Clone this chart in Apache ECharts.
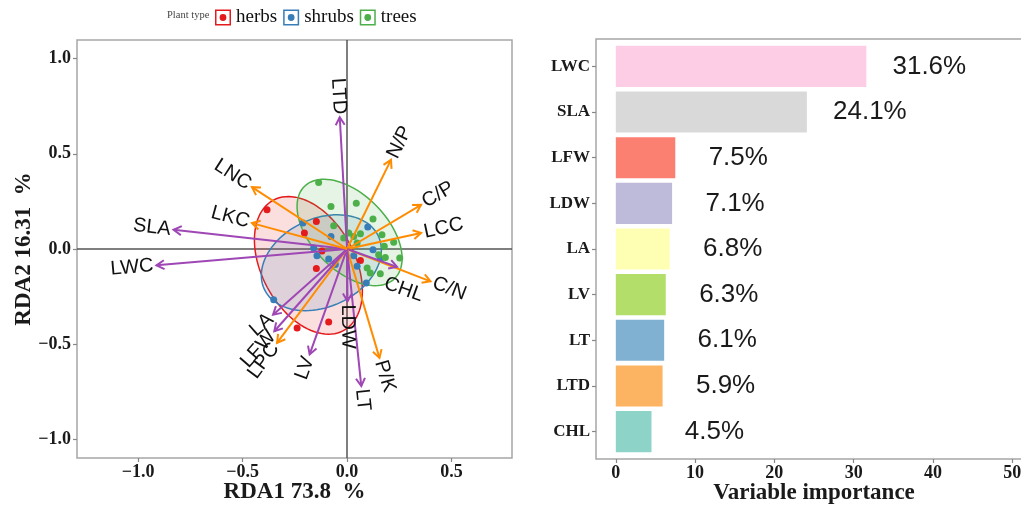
<!DOCTYPE html>
<html>
<head>
<meta charset="utf-8">
<script src="https://cdn.jsdelivr.net/npm/echarts@6.0.0/dist/echarts.min.js"></script>
<style>
  html, body { margin: 0; padding: 0; background: #fff; }
  #chart { width: 1021px; height: 506px; }
</style>
</head>
<body>
<div id="chart"></div>
<script>
  // ---- RDA site scores, one pair of arrays per plant type ----
  const herbsX = [-0.383, -0.147, -0.204, -0.120, -0.147, 0.064, -0.088, -0.239]
  const herbsY = [0.206, 0.145, 0.084, -0.010, -0.103, -0.061, -0.383, -0.415]

  const shrubsX = [-0.211, -0.077, 0.099, 0.124, 0.159, -0.144, -0.088, -0.056, 0.032, 0.048, -0.160, 0.092, -0.351]
  const shrubsY = [0.136, 0.066, 0.115, -0.004, -0.052, -0.035, -0.052, -0.082, -0.035, -0.091, 0.005, -0.178, -0.266]

  const treesX = [-0.136, -0.077, 0.044, 0.124, -0.064, 0.167, 0.223, 0.178, 0.183, 0.252, 0.111, 0.159, 0.064, 0.032, 0.008, -0.016, 0.048, 0.151, 0.096]
  const treesY = [0.349, 0.223, 0.241, 0.157, 0.122, 0.075, 0.035, 0.014, -0.044, -0.047, -0.126, -0.130, 0.080, 0.066, 0.084, 0.058, 0.031, -0.030, -0.100]

  // ---- trait arrows (biplot scores) ----
  const traitNames = ['LTD', 'N/P', 'C/P', 'LCC', 'C/N', 'CHL', 'P/K', 'LT', 'LDW', 'LV', 'LPC', 'LFW', 'LA', 'LWC', 'SLA', 'LKC', 'LNC']
  const traitX = [-0.035, 0.210, 0.354, 0.354, 0.399, 0.239, 0.155, 0.068, 0.002, -0.179, -0.335, -0.348, -0.354, -0.912, -0.830, -0.455, -0.455]
  const traitY = [0.692, 0.468, 0.232, 0.084, -0.170, -0.094, -0.572, -0.720, -0.275, -0.554, -0.493, -0.432, -0.345, -0.086, 0.101, 0.136, 0.325]
  // 1 = leaf structural trait (purple), 0 = stoichiometry trait (orange)
  const traitGroup = [1, 0, 0, 0, 0, 1, 0, 1, 1, 1, 0, 1, 1, 1, 1, 0, 0]

  // ---- confidence ellipses: centre and two half-axis vectors (data units) ----
  const groupNames = ['herbs', 'shrubs', 'trees']
  const ellipseCenter = [[-0.185, -0.086], [-0.123, -0.072], [0.012, 0.087]]
  const ellipseU = [[-0.167, 0.343], [0.273, 0.139], [-0.215, 0.243]]
  const ellipseV = [[-0.197, -0.115], [-0.089, 0.210], [-0.130, -0.138]]

  // ---- variable importance ----
  const impNames = ['LWC', 'SLA', 'LFW', 'LDW', 'LA', 'LV', 'LT', 'LTD', 'CHL']
  const impValues = [31.6, 24.1, 7.5, 7.1, 6.8, 6.3, 6.1, 5.9, 4.5]

  // ---- tick labels ----
  const rdaXTicks = [-1, -0.5, 0, 0.5]
  const rdaYTicks = [-1, -0.5, 0, 0.5, 1]
  const impTicks = [0, 10, 20, 30, 40, 50]

  const groupColors = ['#E41A1C', '#377EB8', '#4DAF4A']
  const groupFill = ['rgba(228,26,28,0.14)', 'rgba(55,126,184,0.14)', 'rgba(77,175,74,0.14)']
  const arrowColors = ['#FF8C00', '#9E47B5']
  const barColors = ['#FCCDE5', '#D9D9D9', '#FB8072', '#BEBADA', '#FFFFB3', '#B3DE69', '#80B1D3', '#FDB462', '#8DD3C7']

  // text repel: CHL label pushed off the C/N label (px)
  const labelNudge = { CHL: [-15, 15] }

  const serif = '"Liberation Serif", "Times New Roman", serif'
  const sans = '"Liberation Sans", Arial, sans-serif'
  const labelFont = '20px ' + sans

  const measureCtx = document.createElement('canvas').getContext('2d')
  measureCtx.font = labelFont

  const fmtNum = (v) => (v < 0 ? '\u2212' : '') + Math.abs(v).toFixed(1)

  // left and right panel boxes (px)
  const rdaBox = { left: 77, top: 40, width: 435, height: 418 }
  const impBox = { left: 596, top: 39, width: 436, height: 420 }
  const band = impBox.height / 9.2 // ggplot discrete expansion of 0.6 per side
  const impBarTop = impBox.top + 0.1 * band

  const chart = echarts.init(document.getElementById('chart'))

  const zip = (xs, ys) => xs.map((x, i) => [x, ys[i]])

  const tickLabel = { fontFamily: serif, fontWeight: 'bold', fontSize: 18, color: '#1a1a1a' }
  const axisName = { fontFamily: serif, fontWeight: 'bold', fontSize: 23, color: '#1a1a1a' }
  const tickStyle = { show: true, inside: false, length: 4, lineStyle: { color: '#888', width: 1.2 } }

  const scatterSeries = [herbsX, shrubsX, treesX].map((xs, g) => ({
    name: groupNames[g],
    type: 'scatter',
    xAxisIndex: 0,
    yAxisIndex: 0,
    data: zip(xs, [herbsY, shrubsY, treesY][g]),
    symbolSize: 7,
    itemStyle: { color: groupColors[g], opacity: 1 },
    z: 3,
  }))

  // zero lines of the biplot
  scatterSeries[0].markLine = {
    silent: true,
    symbol: ['none', 'none'],
    label: { show: false },
    lineStyle: { color: '#555', width: 1.5, type: 'solid' },
    data: [{ xAxis: 0 }, { yAxis: 0 }],
    z: 1,
  }

  chart.setOption({
    animation: false,
    backgroundColor: '#fff',
    title: {
      text: 'Plant type',
      left: 167,
      top: 10,
      padding: 0,
      textStyle: { fontFamily: serif, fontSize: 10.5, fontWeight: 'normal', color: '#444' },
    },
    legend: {
      data: groupNames,
      left: 215,
      top: 8,
      padding: 0,
      itemWidth: 16,
      itemHeight: 16,
      itemGap: 6,
      icon: 'path://M0,0H16V16H0Z M1.5,1.5V14.5H14.5V1.5Z M4.6,8A3.4,3.4,0,1,0,11.4,8A3.4,3.4,0,1,0,4.6,8Z',
      textStyle: { fontFamily: serif, fontSize: 19, color: '#111' },
    },
    grid: [
      Object.assign({
        show: true, borderColor: '#a6a6a6', borderWidth: 1.5, backgroundColor: 'transparent',
        outerBoundsMode: 'none', containLabel: false,
      }, rdaBox),
      {
        left: impBox.left,
        width: impBox.width,
        top: impBarTop,
        height: 9 * band,
        show: false,
        outerBoundsMode: 'none',
        containLabel: false,
      },
    ],
    xAxis: [
      {
        type: 'value',
        gridIndex: 0,
        min: -1.292,
        max: 0.789,
        splitLine: { show: false },
        axisLine: { show: false, onZero: false },
        axisTick: { ...tickStyle, customValues: rdaXTicks },
        axisLabel: { ...tickLabel, margin: 5, formatter: fmtNum, customValues: rdaXTicks },
        name: 'RDA1 73.8  %',
        nameLocation: 'middle',
        nameGap: 23,
        nameMoveOverlap: false,
        nameTextStyle: axisName,
      },
      {
        type: 'value',
        gridIndex: 1,
        min: -2.5,
        max: 52.5,
        offset: impBox.top + impBox.height - (impBarTop + 9 * band),
        splitLine: { show: false },
        axisLine: { show: false, onZero: false },
        axisTick: { ...tickStyle, customValues: impTicks },
        axisLabel: { ...tickLabel, margin: 5, customValues: impTicks },
        name: 'Variable importance',
        nameLocation: 'middle',
        nameGap: 23,
        nameMoveOverlap: false,
        nameTextStyle: axisName,
      },
    ],
    yAxis: [
      {
        type: 'value',
        gridIndex: 0,
        min: -1.098,
        max: 1.098,
        splitLine: { show: false },
        axisLine: { show: false, onZero: false },
        axisTick: { ...tickStyle, customValues: rdaYTicks },
        axisLabel: { ...tickLabel, margin: 6, formatter: fmtNum, customValues: rdaYTicks },
        name: 'RDA2 16.31  %',
        nameLocation: 'middle',
        nameGap: 41,
        nameMoveOverlap: false,
        nameTextStyle: axisName,
      },
      {
        type: 'category',
        gridIndex: 1,
        data: impNames,
        inverse: true,
        axisLine: { show: false, onZero: false },
        axisTick: { ...tickStyle, alignWithLabel: true },
        axisLabel: { ...tickLabel, fontSize: 17, margin: 6 },
      },
    ],
    graphic: [
      {
        type: 'rect',
        shape: { x: impBox.left, y: impBox.top, width: impBox.width, height: impBox.height },
        style: { fill: 'none', stroke: '#a6a6a6', lineWidth: 1.5 },
        silent: true,
        z: 0,
      },
    ],
    series: [
      {
        type: 'custom',
        xAxisIndex: 0,
        yAxisIndex: 0,
        z: 2,
        silent: true,
        data: ellipseCenter.map((c, i) => [c[0], c[1], i]),
        renderItem: (params, api) => {
          const i = params.dataIndex
          const c = ellipseCenter[i], u = ellipseU[i], v = ellipseV[i]
          const pts = []
          for (let k = 0; k < 96; k++) {
            const t = (k / 96) * Math.PI * 2
            pts.push(api.coord([
              c[0] + u[0] * Math.cos(t) + v[0] * Math.sin(t),
              c[1] + u[1] * Math.cos(t) + v[1] * Math.sin(t),
            ]))
          }
          return {
            type: 'polygon',
            shape: { points: pts },
            style: { fill: groupFill[i], stroke: groupColors[i], lineWidth: 1.5, opacity: 1 },
          }
        },
      },
      ...scatterSeries,
      {
        type: 'custom',
        xAxisIndex: 0,
        yAxisIndex: 0,
        z: 4,
        silent: true,
        data: traitX.map((x, i) => [x, traitY[i], i]),
        renderItem: (params, api) => {
          const i = params.dataIndex
          const o = api.coord([0, 0])
          const p = api.coord([api.value(0), api.value(1)])
          const dx = p[0] - o[0], dy = p[1] - o[1]
          const len = Math.sqrt(dx * dx + dy * dy)
          const ux = dx / len, uy = dy / len
          const a = Math.atan2(dy, dx)
          const head = 9
          const h1 = [p[0] - head * Math.cos(a - Math.PI / 6), p[1] - head * Math.sin(a - Math.PI / 6)]
          const h2 = [p[0] - head * Math.cos(a + Math.PI / 6), p[1] - head * Math.sin(a + Math.PI / 6)]
          const color = arrowColors[traitGroup[i]]
          const name = traitNames[i]
          const w = measureCtx.measureText(name).width
          const off = w / 2 + 3
          const nudge = labelNudge[name] || [0, 0]
          const rot = dx === 0 ? Math.PI / 2 : Math.atan(-dy / dx)
          return {
            type: 'group',
            children: [
              { type: 'line', shape: { x1: o[0], y1: o[1], x2: p[0], y2: p[1] }, style: { stroke: color, lineWidth: 2 } },
              { type: 'polyline', shape: { points: [h1, p, h2] }, style: { stroke: color, lineWidth: 2, fill: 'none' } },
              {
                type: 'text',
                x: p[0] + ux * off + nudge[0],
                y: p[1] + uy * off + nudge[1],
                rotation: rot,
                style: { text: name, font: labelFont, fill: '#111', align: 'center', verticalAlign: 'middle' },
              },
            ],
          }
        },
      },
      {
        type: 'bar',
        xAxisIndex: 1,
        yAxisIndex: 1,
        barWidth: '90%',
        data: impValues.map((v, i) => ({ value: v, itemStyle: { color: barColors[i] } })),
        label: {
          show: true,
          position: 'right',
          distance: 63,
          align: 'center',
          formatter: (p) => p.value.toFixed(1) + '%',
          fontFamily: sans,
          fontSize: 26,
          color: '#1a1a1a',
        },
      },
    ],
  })
</script>
</body>
</html>
